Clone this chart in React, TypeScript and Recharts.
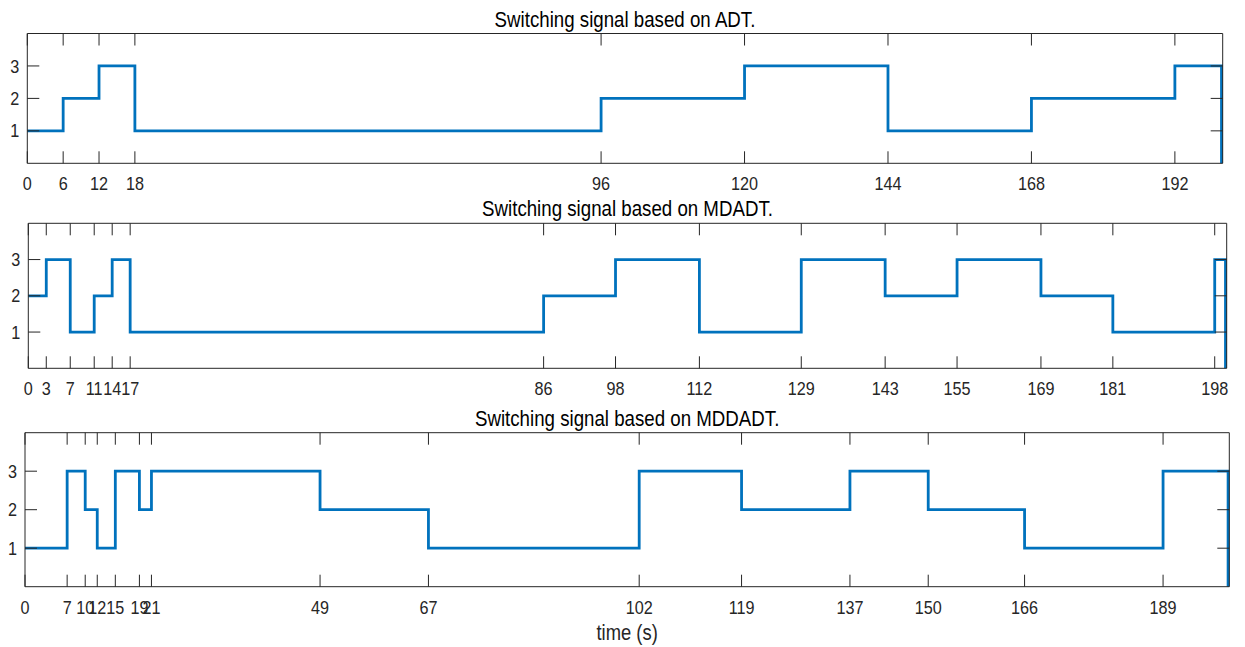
import { LineChart, Line, XAxis, YAxis } from 'recharts';

// switching instants (s) and active mode for each panel
const adtTimes = [0, 6, 12, 18, 96, 120, 144, 168, 192, 199.8];
const adtModes = [1, 2, 3, 1, 2, 3, 1, 2, 3, 0];
const adtTicks = [0, 6, 12, 18, 96, 120, 144, 168, 192];

const mdadtTimes = [0, 3, 7, 11, 14, 17, 86, 98, 112, 129, 143, 155, 169, 181, 198, 199.8];
const mdadtModes = [2, 3, 1, 2, 3, 1, 2, 3, 1, 3, 2, 3, 2, 1, 3, 0];
const mdadtTicks = [0, 3, 7, 11, 14, 17, 86, 98, 112, 129, 143, 155, 169, 181, 198];

const mddadtTimes = [0, 7, 10, 12, 15, 19, 21, 49, 67, 102, 119, 137, 150, 166, 189, 199.8];
const mddadtModes = [1, 3, 2, 1, 3, 2, 3, 2, 1, 3, 2, 3, 2, 1, 3, 0];
const mddadtTicks = [0, 7, 10, 12, 15, 19, 21, 49, 67, 102, 119, 137, 150, 166, 189];

const modeTicks = [1, 2, 3];

const titles = [
	'Switching signal based on ADT.',
	'Switching signal based on MDADT.',
	'Switching signal based on MDDADT.',
];

const W = 1245;
const H = 647;
const FONT = "'Liberation Sans', Arial, Helvetica, sans-serif";
const INK = '#262626';
const BLUE = '#0072BD';
const TICK_LEN = 12;
const STRETCH = 'scale(1,1.15)';

const toRows = (times: number[], modes: number[]) =>
	times.map((t, i) => ({ t, v: modes[i] }));

const panels = [
	{ data: toRows(adtTimes, adtModes), ticks: adtTicks, title: titles[0], left: 27.3, right: 1222.7, top: 33.5, bottom: 163.3 },
	{ data: toRows(mdadtTimes, mdadtModes), ticks: mdadtTicks, title: titles[1], left: 28.3, right: 1226.7, top: 223.3, bottom: 368.3 },
	{ data: toRows(mddadtTimes, mddadtModes), ticks: mddadtTicks, title: titles[2], left: 25, right: 1229.3, top: 432.7, bottom: 586.7 },
];

const BottomTick = (props: any) => {
	const { x, y, payload } = props;
	return (
		<g>
			<line x1={x} y1={y} x2={x} y2={y - TICK_LEN} stroke={INK} />
			<text
				transform={`translate(${x},${y + 27}) ${STRETCH}`}
				textAnchor='middle'
				fontSize={16.2}
				fontFamily={FONT}
				fill={INK}
			>
				{payload.value}
			</text>
		</g>
	);
};

const TopTick = (props: any) => {
	const { x, y } = props;
	return <line x1={x} y1={y} x2={x} y2={y + TICK_LEN} stroke={INK} />;
};

const LeftTick = (props: any) => {
	const { x, y, payload } = props;
	return (
		<g>
			<line x1={x} y1={y} x2={x + TICK_LEN} y2={y} stroke={INK} />
			<text
				transform={`translate(${x - 8},${y + 6.6}) ${STRETCH}`}
				textAnchor='end'
				fontSize={16.2}
				fontFamily={FONT}
				fill={INK}
			>
				{payload.value}
			</text>
		</g>
	);
};

const RightTick = (props: any) => {
	const { x, y } = props;
	return <line x1={x} y1={y} x2={x - TICK_LEN} y2={y} stroke={INK} />;
};

const Panel = ({ p }: { p: (typeof panels)[number] }) => (
	<div style={{ position: 'absolute', left: 0, top: 0 }}>
		<LineChart
			width={W}
			height={H}
			data={p.data}
			margin={{ top: p.top - 1, left: 0, right: W - p.right - 1, bottom: H - p.bottom - 30 }}
		>
			<XAxis
				xAxisId='bottom'
				dataKey='t'
				type='number'
				domain={[0, 200]}
				ticks={p.ticks}
				interval={0}
				height={30}
				tickSize={0}
				tickMargin={0}
				tick={<BottomTick />}
				axisLine={{ stroke: INK }}
			/>
			<XAxis
				xAxisId='top'
				dataKey='t'
				orientation='top'
				type='number'
				domain={[0, 200]}
				ticks={p.ticks}
				interval={0}
				height={1}
				tickSize={0}
				tickMargin={0}
				tick={<TopTick />}
				axisLine={{ stroke: INK }}
			/>
			<YAxis
				yAxisId='left'
				type='number'
				domain={[0, 4]}
				ticks={modeTicks}
				interval={0}
				width={p.left}
				tickSize={0}
				tickMargin={0}
				tick={<LeftTick />}
				axisLine={{ stroke: INK }}
			/>
			<YAxis
				yAxisId='right'
				orientation='right'
				type='number'
				domain={[0, 4]}
				ticks={modeTicks}
				interval={0}
				width={1}
				tickSize={0}
				tickMargin={0}
				tick={<RightTick />}
				axisLine={{ stroke: INK }}
			/>
			{/* invisible twin so the top/right frame axes get drawn */}
			<Line
				xAxisId='top'
				yAxisId='right'
				type='stepAfter'
				dataKey='v'
				stroke='none'
				dot={false}
				activeDot={false}
				isAnimationActive={false}
			/>
			<Line
				xAxisId='bottom'
				yAxisId='left'
				type='stepAfter'
				dataKey='v'
				stroke={BLUE}
				strokeWidth={2.8}
				dot={false}
				activeDot={false}
				isAnimationActive={false}
			/>
		</LineChart>
	</div>
);

export default function App() {
	return (
		<div style={{ position: 'absolute', left: 0, top: 0, width: W, height: H, background: '#fff' }}>
			{panels.map((p, i) => (
				<Panel key={i} p={p} />
			))}
			{/* titles and x label */}
			<svg width={W} height={H} style={{ position: 'absolute', left: 0, top: 0, pointerEvents: 'none' }}>
				{panels.map((p, i) => (
					<text
						key={i}
						transform={`translate(${(p.left + p.right) / 2},${p.top - 7}) ${STRETCH}`}
						textAnchor='middle'
						fontSize={18.7}
						fontFamily={FONT}
						fill='#000'
					>
						{p.title}
					</text>
				))}
				<text
					transform={`translate(${(panels[2].left + panels[2].right) / 2},${640}) ${STRETCH}`}
					textAnchor='middle'
					fontSize={18.4}
					fontFamily={FONT}
					fill={INK}
				>
					time (s)
				</text>
			</svg>
		</div>
	);
}
